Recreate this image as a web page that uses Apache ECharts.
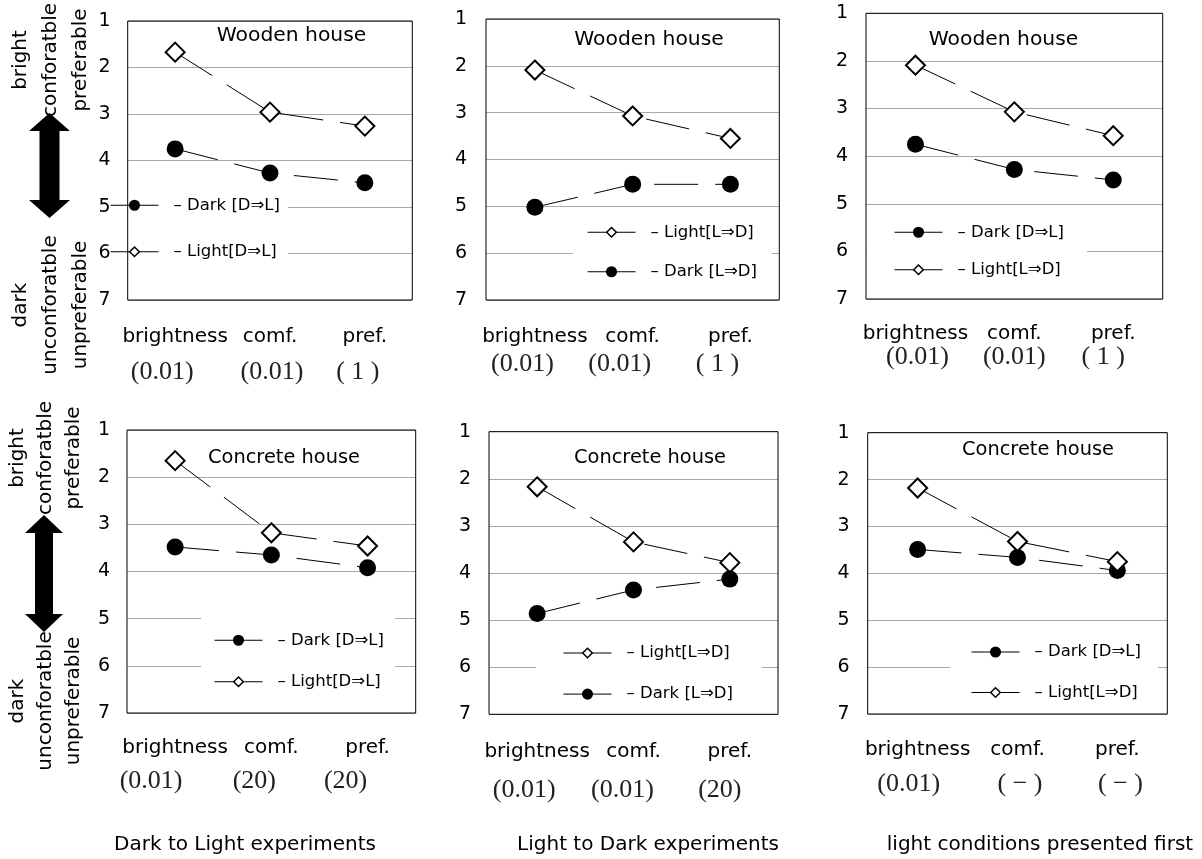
<!DOCTYPE html>
<html><head><meta charset="utf-8">
<script src="https://cdn.jsdelivr.net/npm/echarts@6/dist/echarts.min.js"></script>
<style>html,body{margin:0;padding:0;background:#fff}#c{width:1202px;height:859px}</style>
</head><body><div id="c"></div>
<script>
// ---------- data ----------
const categories = ['brightness', 'comf.', 'pref.'];
const yMin = 1, yMax = 7, yStep = 1;

const nDarkDL = '– Dark [D⇒L]';
const nLightDL = '– Light[D⇒L]';
const nLightLD = '– Light[L⇒D]';
const nDarkLD = '– Dark [L⇒D]';

const panelTitles = ['Wooden house', 'Wooden house', 'Wooden house', 'Concrete house', 'Concrete house', 'Concrete house'];
const captions = ['Dark to Light experiments', 'Light to Dark experiments', 'light conditions presented first'];

// Wooden house
const woodDL_dark  = [3.75, 4.27, 4.48];
const woodDL_light = [1.67, 2.96, 3.26];
const woodLD_light = [2.09, 3.07, 3.55];
const woodLD_dark  = [5.02, 4.53, 4.53];
const woodLF_dark  = [3.75, 4.28, 4.50];
const woodLF_light = [2.09, 3.07, 3.57];
// Concrete house
const concDL_dark  = [3.48, 3.65, 3.92];
const concDL_light = [1.65, 3.18, 3.46];
const concLD_light = [2.17, 3.34, 3.78];
const concLD_dark  = [4.86, 4.36, 4.13];
const concLF_dark  = [3.49, 3.66, 3.94];
const concLF_light = [2.18, 3.32, 3.75];

// significance labels under the categories
const sigWoodDL = ['(0.01)', '(0.01)', '( 1 )'];
const sigWoodLD = ['(0.01)', '(0.01)', '( 1 )'];
const sigWoodLF = ['(0.01)', '(0.01)', '( 1 )'];
const sigConcDL = ['(0.01)', '(20)', '(20)'];
const sigConcLD = ['(0.01)', '(0.01)', '(20)'];
const sigConcLF = ['(0.01)', '( − )', '( − )'];

const leftTop = 'bright\nconforatble\npreferable';
const leftBottom = 'dark\nunconforatble\nunpreferable';

// ---------- panel composition ----------
const panels = [
  { names: [nDarkDL, nLightDL], values: [woodDL_dark, woodDL_light], kinds: ['dark', 'light'], sig: sigWoodDL },
  { names: [nLightLD, nDarkLD], values: [woodLD_light, woodLD_dark], kinds: ['light', 'dark'], sig: sigWoodLD },
  { names: [nDarkDL, nLightLD], values: [woodLF_dark, woodLF_light], kinds: ['dark', 'light'], sig: sigWoodLF },
  { names: [nDarkDL, nLightDL], values: [concDL_dark, concDL_light], kinds: ['dark', 'light'], sig: sigConcDL },
  { names: [nLightLD, nDarkLD], values: [concLD_light, concLD_dark], kinds: ['light', 'dark'], sig: sigConcLD },
  { names: [nDarkDL, nLightLD], values: [concLF_dark, concLF_light], kinds: ['dark', 'light'], sig: sigConcLF }
];

// ---------- layout (positions / styles) ----------
const layout = [
  { left: 127.7, top: 21,  width: 284.6, height: 279,   yMargin: 17, xMargin: 14.5, L1: 45,   shifts: [-13, 2, -7],
    title: [291.5, 36],  leg: { left: 110, top: 184.75, padding: [12, 8, 10, 0],  gap: 29.5 } },
  { left: 486,   top: 19,  width: 293.3, height: 281,   yMargin: 19, xMargin: 22.4, L1: 28.6, shifts: [-12.5, -13, -13],
    title: [649, 39.5],  leg: { left: 573, top: 213.75, padding: [10, 15, 10, 14], gap: 22.5 } },
  { left: 866,   top: 13.3, width: 296.7, height: 285.7, yMargin: 18, xMargin: 25.3, L1: 19.4, shifts: [2, 0, -10],
    title: [1003.5, 39.5], leg: { left: 867, top: 211.75, padding: [12, 23, 10, 27], gap: 20.5 } },
  { left: 127,   top: 430, width: 288.7, height: 283,   yMargin: 17, xMargin: 15.2, L1: 39.6, shifts: [-24, -17, -22],
    title: [284, 457.5], leg: { left: 201, top: 612,    padding: [19.75, 11, 10, 13], gap: 24.5 } },
  { left: 489,   top: 431.7, width: 289,  height: 282.6, yMargin: 18, xMargin: 12.4, L1: 50.6, shifts: [-13, -11, -10],
    title: [650, 457.5], leg: { left: 536, top: 632.5,  padding: [12, 29, 10, 27], gap: 24.1 } },
  { left: 867.7, top: 432.7, width: 299.6, height: 281.3, yMargin: 18, xMargin: 15, L1: 42, shifts: [-9, 2.5, 3],
    title: [1038, 450],  leg: { left: 950, top: 631.5,  padding: [12, 17, 10, 21], gap: 23.5 } }
];

const FONT = 'DejaVu Sans';
const SERIF = 'Liberation Serif';

const grids = [], xAxes = [], yAxes = [], series = [], legends = [], graphics = [];

panels.forEach((p, i) => {
  const L = layout[i];
  grids.push({
    left: L.left, top: L.top, width: L.width, height: L.height,
    show: true, borderColor: '#000', borderWidth: 1, backgroundColor: 'transparent', z: 5
  });
  const rich = {
    c: { fontFamily: FONT, fontSize: 20, color: '#000', lineHeight: L.L1 }
  };
  L.shifts.forEach((d, k) => {
    rich['s' + k] = {
      fontFamily: SERIF, fontSize: 26, color: '#222', lineHeight: 26,
      padding: d < 0 ? [0, -2 * d, 0, 0] : [0, 0, 0, 2 * d]
    };
  });
  xAxes.push({
    type: 'category', gridIndex: i, data: categories, boundaryGap: true,
    axisLine: { show: false }, axisTick: { show: false }, splitLine: { show: false },
    axisLabel: {
      margin: L.xMargin, interval: 0,
      formatter: (v, idx) => '{c|' + v + '}\n{s' + idx + '|' + p.sig[idx] + '}',
      rich: rich
    }
  });
  yAxes.push({
    type: 'value', gridIndex: i, inverse: true, min: yMin, max: yMax, interval: yStep,
    axisLine: { show: false }, axisTick: { show: false },
    splitLine: { show: true, lineStyle: { color: '#a8a8a8', width: 1 } },
    axisLabel: { margin: L.yMargin, fontFamily: FONT, fontSize: 19, color: '#000' }
  });
  p.names.forEach((nm, k) => {
    const light = p.kinds[k] === 'light';
    series.push({
      type: 'line', name: nm, xAxisIndex: i, yAxisIndex: i,
      data: p.values[k],
      symbol: light ? 'diamond' : 'circle',
      symbolSize: light ? 19 : 17,
      itemStyle: light ? { color: '#fff', borderColor: '#000', borderWidth: 2 } : { color: '#000', borderColor: '#000', borderWidth: 0 },
      lineStyle: { color: '#000', width: 1, type: [44, 17] },
      emphasis: { disabled: true },
      animation: false
    });
  });
  legends.push({
    orient: 'vertical', left: L.leg.left, top: L.leg.top, padding: L.leg.padding,
    itemGap: L.leg.gap, itemWidth: 48, itemHeight: 12,
    backgroundColor: '#fff',
    data: p.names,
    selectedMode: false,
    textStyle: { fontFamily: FONT, fontSize: 16.5, color: '#000', padding: [0, 0, 0, 10] },
    lineStyle: { color: '#000', width: 1, type: 'solid' },
    itemStyle: { borderWidth: 1.5 }
  });
  graphics.push({
    type: 'text', x: L.title[0], y: L.title[1], z: 10,
    style: { text: panelTitles[i], fontFamily: FONT, fontSize: i < 3 ? 20.3 : 19.4, fill: '#000', align: 'center', verticalAlign: 'middle' }
  });
});

// bottom captions
const capX = [245, 648, 1040];
captions.forEach((t, k) => {
  graphics.push({
    type: 'text', x: capX[k], y: 845,
    style: { text: t, fontFamily: FONT, fontSize: 20, fill: '#000', align: 'center', verticalAlign: 'middle' }
  });
});

// rotated side annotations
const sideTexts = [
  { text: leftTop, x: 51, y: 60, lh: 30 },
  { text: leftBottom, x: 51, y: 305, lh: 30 },
  { text: leftTop, x: 46, y: 458, lh: 28 },
  { text: leftBottom, x: 46, y: 701, lh: 28 }
];
sideTexts.forEach(s => {
  graphics.push({
    type: 'text', x: s.x, y: s.y, rotation: Math.PI / 2,
    style: { text: s.text, fontFamily: FONT, fontSize: 20, lineHeight: s.lh, fill: '#000', align: 'center', verticalAlign: 'middle' }
  });
});

// double arrows
function arrow(cx, top, bottom, hw, sw, hh) {
  return {
    type: 'polygon',
    shape: { points: [[cx, top], [cx + hw, top + hh], [cx + sw, top + hh], [cx + sw, bottom - hh], [cx + hw, bottom - hh],
      [cx, bottom], [cx - hw, bottom - hh], [cx - sw, bottom - hh], [cx - sw, top + hh], [cx - hw, top + hh]] },
    style: { fill: '#000' }, z: 20
  };
}
graphics.push(arrow(49.5, 113, 218, 20.5, 10, 18));
graphics.push(arrow(44, 515, 632, 19, 9, 18));

const chart = echarts.init(document.getElementById('c'), null, { renderer: 'canvas' });
chart.setOption({
  animation: false,
  backgroundColor: '#fff',
  grid: grids, xAxis: xAxes, yAxis: yAxes, series: series, legend: legends,
  graphic: { elements: graphics }
});
</script>
</body></html>
